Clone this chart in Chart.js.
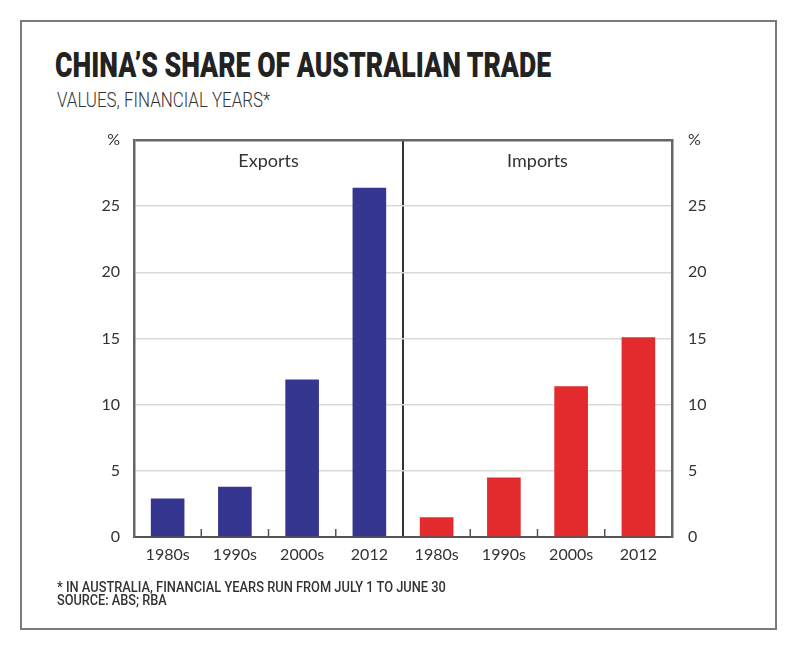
<!DOCTYPE html>
<html lang="en">
<head>
  <meta charset="UTF-8">
  <title>China's share of Australian trade</title>
  <script src="https://cdn.jsdelivr.net/npm/chart.js"></script>
  <style>
    body {
      margin: 0;
      background: #ffffff;
      width: 800px;
      height: 647px;
      position: relative;
      overflow: hidden;
    }

    #frame {
      position: absolute;
      left: 20px;
      top: 20px;
      width: 753px;
      height: 606px;
      border: 2px solid #7a7a7a;
    }

    .txt {
      position: absolute;
      white-space: nowrap;
      line-height: 1;
      transform-origin: left top;
      font-family: Roboto, 'DejaVu Sans', sans-serif;
      color: #2b2b2b;
    }

    #title { left: 55px; top: 48px; font-size: 35px; font-weight: 900; color: #222; }
    #subtitle { left: 57px; top: 90px; font-size: 20px; font-weight: 300; color: #333; }
    #note1 { left: 57px; top: 580px; font-size: 14px; font-weight: 500; color: #333; }
    #note2 { left: 57px; top: 593px; font-size: 14px; font-weight: 500; color: #333; }

    #chartCanvas {
      position: absolute;
      left: 0;
      top: 0;
    }
  </style>
</head>
<body>
  <div id="frame"></div>
  <div class="txt" id="title" data-w="496">CHINA’S SHARE OF AUSTRALIAN TRADE</div>
  <div class="txt" id="subtitle" data-w="213">VALUES, FINANCIAL YEARS*</div>
  <canvas id="chartCanvas" width="800" height="647"></canvas>
  <div class="txt" id="note1" data-w="389">* IN AUSTRALIA, FINANCIAL YEARS RUN FROM JULY 1 TO JUNE 30</div>
  <div class="txt" id="note2" data-w="110">SOURCE: ABS; RBA</div>

  <script>
    // data
    const periods = ["1980s", "1990s", "2000s", "2012"];
    const panels = ["Exports", "Imports"];
    const exportsShare = [2.9, 3.8, 11.9, 26.4];
    const importsShare = [1.5, 4.5, 11.4, 15.1];
    const yTicks = [0, 5, 10, 15, 20, 25];
    const yMax = 30;

    // squeeze the condensed headline texts to their width
    document.querySelectorAll(".txt").forEach(el => {
      const target = +el.dataset.w;
      el.style.transform = "scaleX(" + (target / el.scrollWidth) + ")";
    });

    const labels = periods.concat(periods);
    const pad = new Array(periods.length).fill(null);

    const tickLabel = v => (v === yMax ? "%" : (yTicks.includes(v) ? String(v) : ""));

    const panelPlugin = {
      id: "panels",
      afterDatasetsDraw(chart) {
        const x = chart.scales.x;
        const area = chart.chartArea;
        const ctx = chart.ctx;
        const n = periods.length;
        ctx.save();
        // small inward ticks between categories
        ctx.strokeStyle = "#555";
        ctx.lineWidth = 1.5;
        for (let i = 0; i < labels.length - 1; i++) {
          if (i === n - 1) continue;
          const bx = (x.getPixelForValue(i) + x.getPixelForValue(i + 1)) / 2;
          ctx.beginPath();
          ctx.moveTo(bx, area.bottom);
          ctx.lineTo(bx, area.bottom - 8);
          ctx.stroke();
        }
        // panel titles
        ctx.fillStyle = "#333";
        ctx.font = "18px Lato";
        ctx.textAlign = "center";
        ctx.textBaseline = "middle";
        panels.forEach((p, k) => {
          const cx = (x.getPixelForValue(k * n) + x.getPixelForValue(k * n + n - 1)) / 2;
          ctx.fillText(p, cx, area.top + 21);
        });
        ctx.restore();
      }
    };

    new Chart(document.getElementById("chartCanvas"), {
      type: "bar",
      data: {
        labels,
        datasets: [
          {
            label: panels[0],
            data: exportsShare.concat(pad),
            backgroundColor: "#35368f",
            grouped: false
          },
          {
            label: panels[1],
            data: pad.concat(importsShare),
            backgroundColor: "#e32a2d",
            grouped: false
          }
        ]
      },
      options: {
        responsive: false,
        animation: false,
        barPercentage: 0.5,
        categoryPercentage: 1,
        layout: { padding: { top: 140, left: 0, right: 0, bottom: 0 } },
        plugins: {
          legend: { display: false },
          tooltip: { enabled: false }
        },
        scales: {
          x: {
            offset: true,
            afterFit(s) { s.height = 110; },
            grid: {
              offset: true,
              drawTicks: false,
              color: c => (c.index === periods.length ? "#333" : "rgba(0,0,0,0)"),
              lineWidth: 2
            },
            border: { display: true, color: "#555", width: 2 },
            ticks: {
              padding: 8,
              color: "#333",
              font: { family: "Lato", size: 16 },
              maxRotation: 0,
              autoSkip: false
            }
          },
          y: {
            position: "left",
            min: 0,
            max: yMax,
            afterFit(s) { s.width = 134; },
            grid: {
              drawTicks: false,
              color: c => (c.tick.value === yMax ? "#666" : "#dadada"),
              lineWidth: c => (c.tick.value === yMax ? 2.5 : 1.5)
            },
            border: { display: true, color: "#666", width: 2.5 },
            ticks: {
              stepSize: 5,
              padding: 14,
              color: "#333",
              font: { family: "Lato", size: 16 },
              callback: tickLabel
            }
          },
          y2: {
            position: "right",
            min: 0,
            max: yMax,
            afterFit(s) { s.width = 128; },
            grid: { display: false, drawTicks: false },
            border: { display: true, color: "#666", width: 2.5 },
            ticks: {
              stepSize: 5,
              padding: 16,
              color: "#333",
              font: { family: "Lato", size: 16 },
              callback: tickLabel
            }
          }
        }
      },
      plugins: [panelPlugin]
    });
  </script>
</body>
</html>
